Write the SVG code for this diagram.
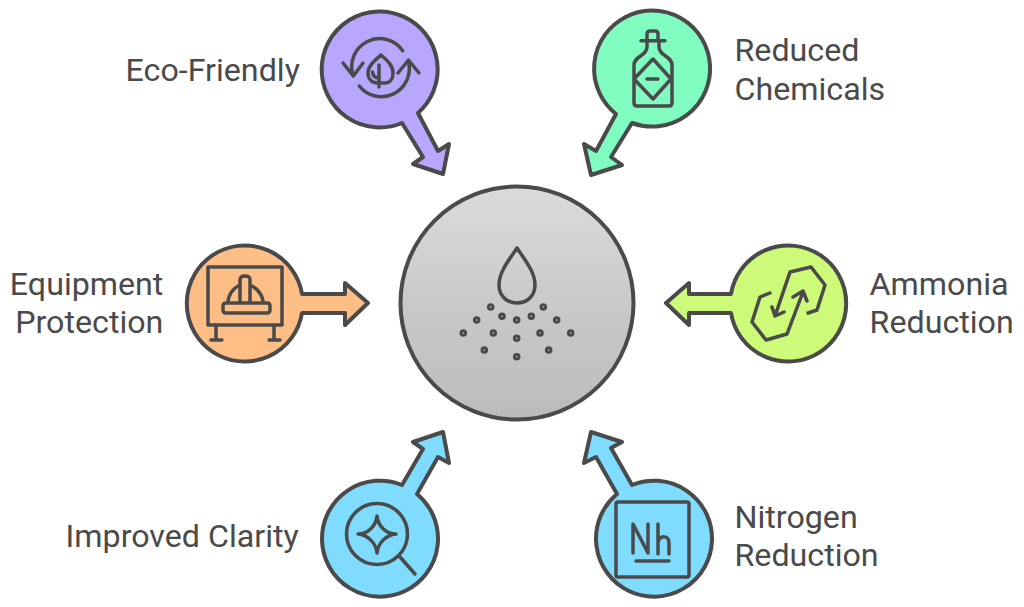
<svg xmlns="http://www.w3.org/2000/svg" width="1024" height="607" viewBox="0 0 1024 607">
<defs>
<linearGradient id="g" x1="0" y1="0" x2="0" y2="1">
<stop offset="0" stop-color="#dadada"/><stop offset="0.15" stop-color="#d6d6d6"/><stop offset="0.33" stop-color="#d0d0d0"/><stop offset="0.6" stop-color="#c6c6c6"/><stop offset="0.87" stop-color="#c0c0c0"/><stop offset="1" stop-color="#bababa"/>
</linearGradient>
</defs>
<style>
.s{stroke:#4a4a4a;stroke-width:4;stroke-linejoin:round;stroke-linecap:round}
.i{fill:none;stroke:#4a4a4a;stroke-width:3.5;stroke-linejoin:round;stroke-linecap:round}
.d{fill:none;stroke:#4a4a4a;stroke-width:3}
text{font-family:Roboto,"Liberation Sans",sans-serif;font-size:32.2px;fill:#4a4a4a}
</style>
<g id="connectors"></g>
<g id="center">
<circle cx="517" cy="303" r="116.5" fill="url(#g)" class="s"/>
<path class="i" d="M517 248C509 260 499 272 499 285C499 296 507 303 517 303C527 303 535 296 535 285C535 272 525 260 517 248Z"/>
<g class="d">
<circle cx="490.7" cy="307" r="2.300"/><circle cx="543.3" cy="307" r="2.300"/><circle cx="476.7" cy="320" r="2.300"/><circle cx="502" cy="316.3" r="2.300"/><circle cx="516.7" cy="320" r="2.300"/><circle cx="531.3" cy="316.3" r="2.300"/><circle cx="556.7" cy="320" r="2.300"/><circle cx="463.3" cy="333" r="2.300"/><circle cx="493.3" cy="333" r="2.300"/><circle cx="540" cy="333" r="2.300"/><circle cx="570.7" cy="333" r="2.300"/><circle cx="516.7" cy="338.3" r="2.300"/><circle cx="484.3" cy="350" r="2.300"/><circle cx="548.7" cy="350" r="2.300"/><circle cx="516.7" cy="356.7" r="2.300"/>
</g>
</g>
<g id="eco">
<path class="s" fill="#b8a6ff" d="M402 123A58 58 0 1 1 418 113L438 151L449 144L443 174L413 164L423 157Z"/>
<path class="i" d="M402.7 50.7A28 28 0 0 0 353.3 76M343 63L353.3 76L363 63M359.3 86A28 28 0 0 0 408.5 62M398 73L408.5 60L419 73"/>
<path class="i" d="M381 55C374 61 368 66 368 73C368 79 372 83 378 83M381 55C388 61 393 66 393 73C393 79 390 83 385 83L378 83M379 87L379 65M379 78C375 78 373 76 372.500 72"/>
<text x="125.600" y="81">Eco-Friendly</text>
</g>
<g id="chemicals">
<path class="s" fill="#80fcc0" d="M632 123A58 58 0 1 0 616 114L596 151L584 144L591 175L622 165L611 157Z"/>
<path class="i" d="M641 40.700H665M647 40.700V34Q647 31 650 31H655Q658 31 658 34V40.700M647 41V47C647 56 634 56 634 65V103Q634 106 637 106H669Q672 106 672 103V65C672 56 659 56 659 47V41M634 79L653 59L671 79L653 99ZM647 79H658"/>
<text x="734.500" y="61">Reduced</text>
<text x="734.500" y="100">Chemicals</text>
</g>
<g id="equipment">
<path class="s" fill="#ffbe85" d="M302 313A58 58 0 1 1 302 294H345V283L368 303L345 325V313Z"/>
<path class="i" d="M208 267H282V325H208ZM216 325V340M211 340H222M274 325V340M269 340H280"/>
<path class="i" d="M226 303H267Q270 303 270 306V310Q270 313 267 313H226Q223 313 223 310V306Q223 303 226 303ZM228 303C228 295 233 288 240 285M263 303C263 295 257 288 250 285M240 303V280Q240 276 245 276Q250 276 250 280V303"/>
<text x="163.400" y="295" text-anchor="end">Equipment</text>
<text x="163.400" y="333" text-anchor="end">Protection</text>
</g>
<g id="ammonia">
<path class="s" fill="#cdfa78" d="M731 294A58 58 0 1 1 731 313H689V325L666 303L689 283V294Z"/>
<path class="i" d="M775 316L790 272L811 267L825 285L817 310L808 313M772 307L775 316L784 312M803 292L787 334L766 340L752 322L760 297L770 293M793 297L803 291L807 301"/>
<text x="869.600" y="295">Ammonia</text>
<text x="869.600" y="333">Reduction</text>
</g>
<g id="clarity">
<path class="s" fill="#7fdcff" d="M402 485A58 58 0 1 0 417 494L438 457L449 463L443 432L413 442L423 449Z"/>
<circle class="i" cx="377" cy="534" r="30.500"/>
<path class="i" d="M400 557L415 574M377 516C378 526 386 534 396 534C386 535 378 543 377 553C376 543 368 535 358 534C368 534 376 526 377 516Z"/>
<text x="65.600" y="547">Improved Clarity</text>
</g>
<g id="nitrogen">
<path class="s" fill="#7fdcff" d="M632 485A58 58 0 1 1 617 494L596 457L584 463L591 432L622 442L611 448Z"/>
<rect class="i" x="616" y="502" width="73" height="75" rx="2"/>
<path class="i" d="M633 553V524L648 553V524M658 524V554M658 542C660 535 669 535 669 543V554M636 561H669"/>
<text x="734.500" y="528">Nitrogen</text>
<text x="734.500" y="566">Reduction</text>
</g>
</svg>
